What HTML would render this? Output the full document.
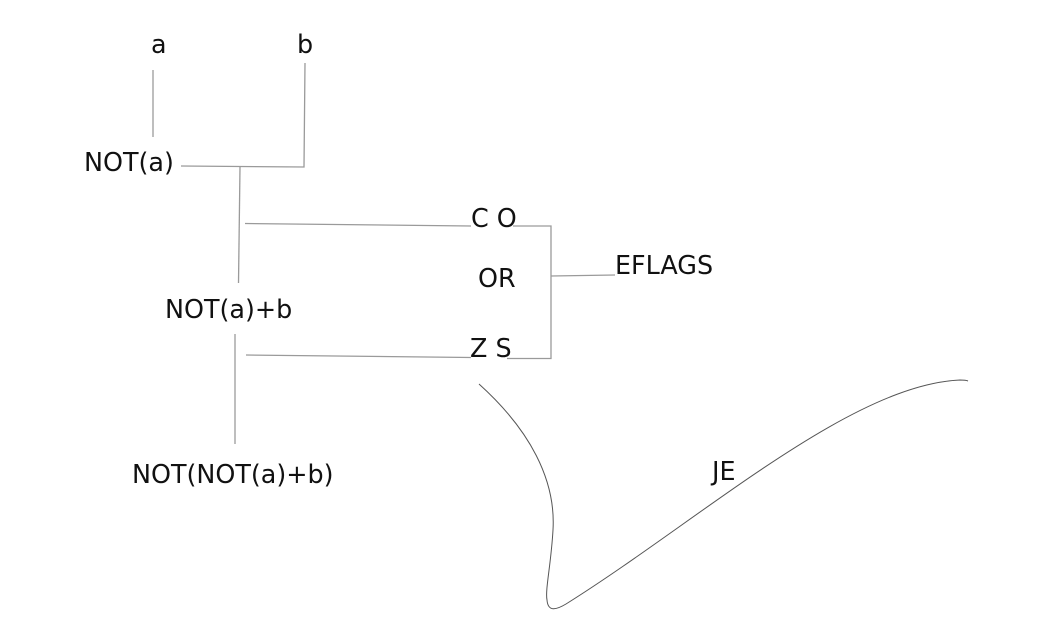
<!DOCTYPE html>
<html>
<head>
<meta charset="utf-8">
<style>
  html, body { margin: 0; padding: 0; background: #fff; }
  svg { display: block; }
  text { font-family: "DejaVu Sans", "Liberation Sans", sans-serif; font-size: 25.4px; fill: #111; }
</style>
</head>
<body>
<svg width="1054" height="633" viewBox="0 0 1054 633" xmlns="http://www.w3.org/2000/svg">
  <g stroke="#9a9a9a" stroke-width="1.3" fill="none">
    <line x1="153" y1="70" x2="153" y2="137"/>
    <polyline points="305,63 304,167 181,166"/>
    <line x1="240" y1="167" x2="238.5" y2="283"/>
    <line x1="245" y1="223.5" x2="471" y2="226"/>
    <polyline points="513,226 551,226 551,358.5 507,358.5"/>
    <line x1="551" y1="276" x2="615" y2="275"/>
    <line x1="246" y1="355" x2="471" y2="357.5"/>
    <line x1="235" y1="334" x2="235" y2="444"/>
  </g>
  <path d="M479,384 C530,430 556,480 553,530 C551,565 545,590 547,600 C548,612 556,610 566,604 C700,520 850,385 960,380 C964,380 966,380 968,381"
        stroke="#555" stroke-width="1" fill="none"/>
  <text x="151" y="53">a</text>
  <text x="297" y="53">b</text>
  <text x="84" y="171">NOT(a)</text>
  <text x="165" y="318">NOT(a)+b</text>
  <text x="132" y="483">NOT(NOT(a)+b)</text>
  <text x="471" y="227">C O</text>
  <text x="478" y="287">OR</text>
  <text x="470" y="357">Z S</text>
  <text x="615" y="274">EFLAGS</text>
  <text x="712" y="480">JE</text>
</svg>
</body>
</html>
